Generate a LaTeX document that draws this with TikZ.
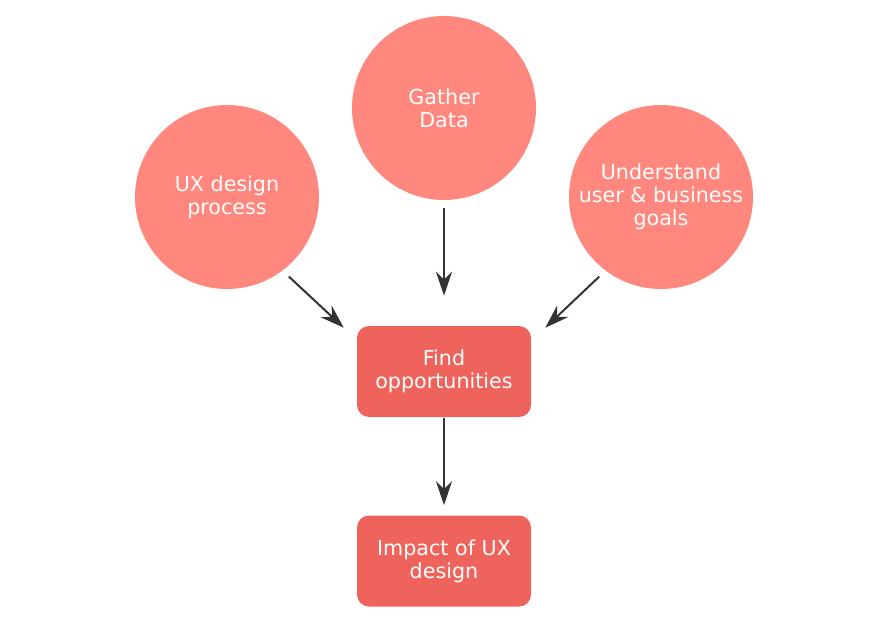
\documentclass[tikz,border=0pt]{standalone}
\usepackage{fontspec}
\setmainfont{DejaVu Sans}
\usetikzlibrary{positioning}
\usetikzlibrary{calc}
\usetikzlibrary{arrows.meta}

\definecolor{circlered}{HTML}{FF877D}
\definecolor{boxred}{HTML}{EE645C}
\definecolor{arrowgray}{HTML}{333333}

\begin{document}
\begin{tikzpicture}[x=0.75pt,y=-0.75pt,
  goal/.style={circle,fill=circlered,minimum size=138pt,inner sep=0pt,
    text=white,align=center,font=\fontsize{15.5}{17.25}\selectfont},
  stepbox/.style={rectangle,rounded corners=9pt,fill=boxred,minimum width=130.5pt,
    minimum height=68.25pt,inner sep=0pt,text=white,align=center,
    font=\fontsize{15.5}{17.25}\selectfont},
  flow/.style={draw=arrowgray,line width=1.5pt,-{Stealth[length=18pt,width=12pt,inset=6pt]}}]
\useasboundingbox (0,0) rectangle (889,624);

\node[goal](UX) at (227,197){UX design\\process};
\node[goal](GD) at (444,108){Gather\\Data};
\node[goal](UG) at (661,197){Understand\\user \& business\\goals};
\node[stepbox](FO) at (444,371.5){Find\\opportunities};
\node[stepbox](IM) at (444,561){Impact of UX\\design};

\path
(UX.-53) edge[flow,shorten <=6.5pt] ([xshift=-9.75pt,yshift=-1.5pt]FO.north west)
(GD) edge[flow,shorten <=6pt,shorten >=22.5pt] (FO)
(UG.-127) edge[flow,shorten <=6.5pt] ([xshift=10.5pt,yshift=-1.5pt]FO.north east)
(FO) edge[flow,shorten <=0.75pt,shorten >=7.5pt] (IM);
\end{tikzpicture}
\end{document}
